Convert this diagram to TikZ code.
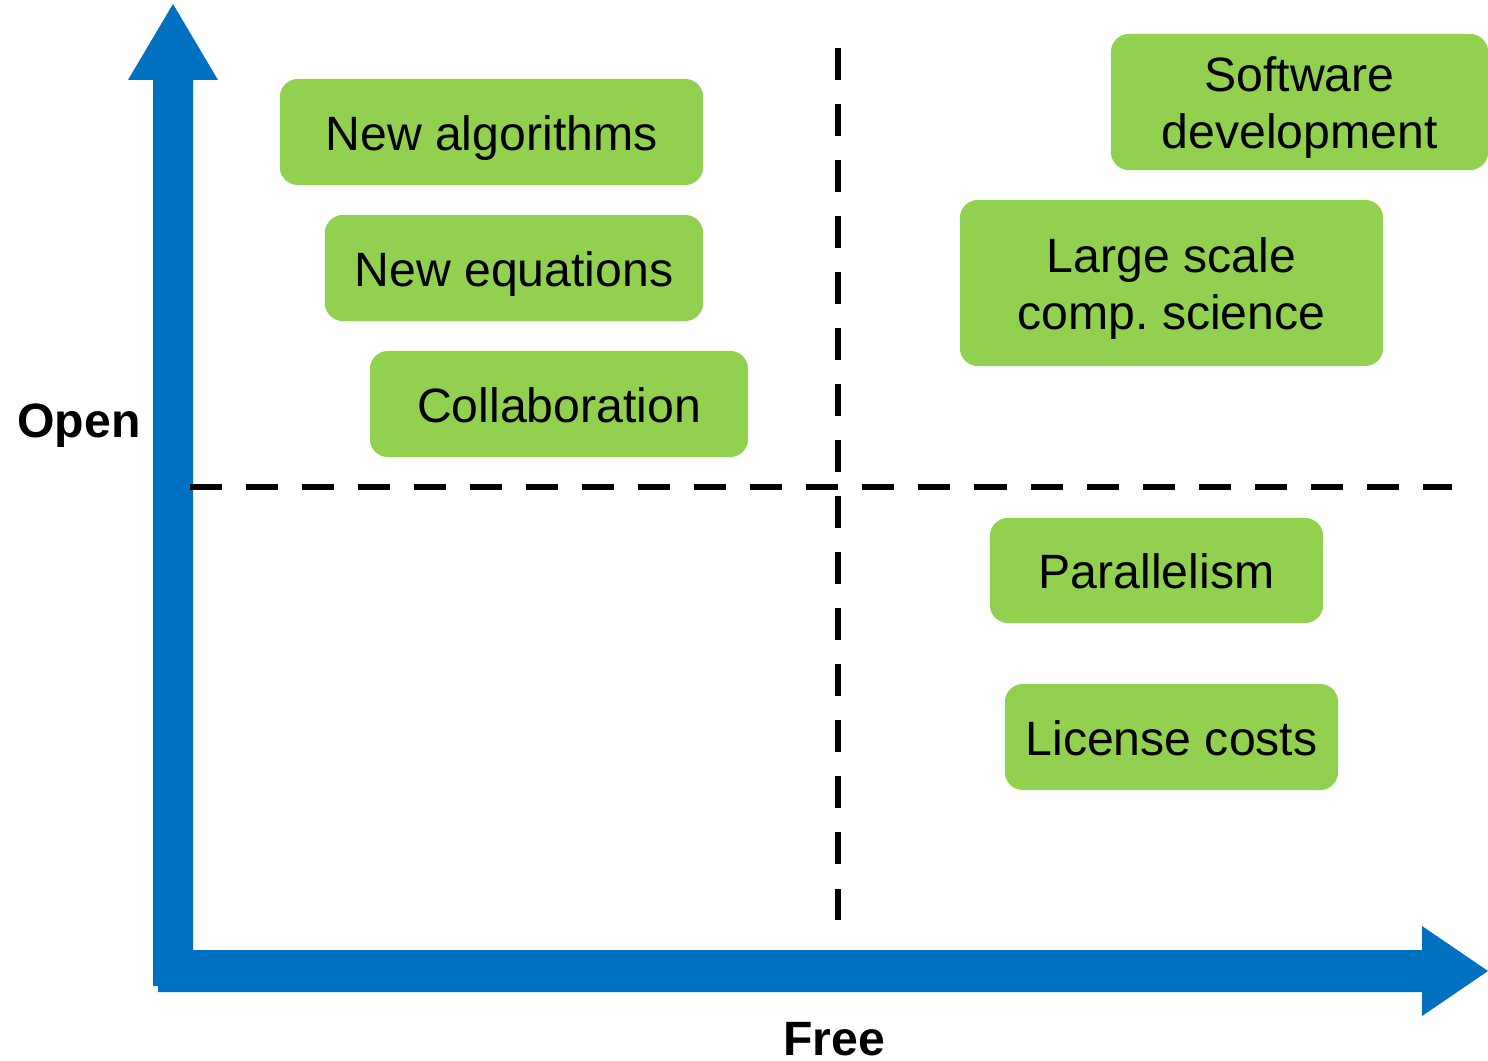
\documentclass[tikz,border=0pt]{standalone}
\usepackage{fontspec}
\setmainfont{Liberation Sans}
\definecolor{axisblue}{RGB}{0,112,192}
\definecolor{boxgreen}{RGB}{146,208,80}
% fixed line height so every line sits at the same place whatever its letters
\newcommand\boxstrut{\rule[-0.10cm]{0pt}{0.56cm}}
\begin{document}
\begin{tikzpicture}[x=0.01cm,y=-0.01cm,
  topic/.style={fill=boxgreen, rounded corners=0.18cm, inner sep=0pt,
    align=center, font=\fontsize{13.7}{16.2}\selectfont},
  axislabel/.style={font=\fontsize{13.7}{16.2}\selectfont\bfseries, anchor=base, inner sep=0pt},
  divider/.style={line width=0.06cm, dash pattern=on 0.32cm off 0.24cm}]
\useasboundingbox (0,0) rectangle (1488,1061);

% axes drawn as block arrows
\fill[axisblue] (153,986) -- (153,80) -- (128,80) -- (173,4) -- (218,80) -- (193,80) -- (193,986) -- cycle;
\fill[axisblue] (158,950) -- (1422,950) -- (1422,926) -- (1488,971) -- (1422,1016) -- (1422,992) -- (158,992) -- cycle;

% quadrant dividers
\coordinate (vtop) at (838,48);
\coordinate (vbot) at (838,920);
\coordinate (hleft) at (190,487);
\coordinate (hright) at (1452,487);
\draw[divider] (vtop) -- (vbot);
\draw[divider] (hleft) -- (hright);

% axis labels
\node[axislabel] (open) at (79,438) {Open};
\node[axislabel] (free) at (834,1055) {Free};

% topics
\node[topic, minimum width=4.23cm, minimum height=1.06cm] (alg) at (491.5,132) {\boxstrut New algorithms};
\node[topic, minimum width=3.78cm, minimum height=1.06cm] (eq) at (514,268) {\boxstrut New equations};
\node[topic, minimum width=3.78cm, minimum height=1.06cm] (collab) at (559,404) {\boxstrut Collaboration};
\node[topic, minimum width=3.77cm, minimum height=1.36cm] (soft) at (1299.5,102) {\boxstrut Software\\\boxstrut development};
\node[topic, minimum width=4.23cm, minimum height=1.66cm] (large) at (1171.5,283) {\boxstrut Large scale\\\boxstrut comp.\ science};
\node[topic, minimum width=3.33cm, minimum height=1.05cm] (par) at (1156.5,570.5) {\boxstrut Parallelism};
\node[topic, minimum width=3.33cm, minimum height=1.06cm] (lic) at (1171.5,737) {\boxstrut License costs};
\end{tikzpicture}
\end{document}
